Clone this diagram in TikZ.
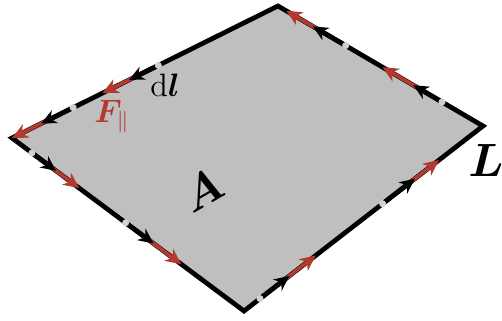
\documentclass[tikz,border=0pt]{standalone}
\usepackage{bm}
\usepackage{xcolor}
\usepackage{tikz}
\usetikzlibrary{arrows.meta, calc}

\definecolor{fred}{RGB}{180,58,48}

\begin{document}
\begin{tikzpicture}[
	x=0.37pt, y=-0.37pt,
	area/.style={fill=black!25},
	edge/.style={draw=black, line width=1.75pt, line join=miter},
	dlarr/.style={-{Stealth[length=5.6pt, width=5.2pt, inset=1.8pt]}, line width=1.75pt, black},
	farr/.style={-{Stealth[length=5.8pt, width=5.4pt, inset=1.8pt]}, line width=1.4pt, fred},
	gdot/.style={fill=black!18},
	lbl/.style={inner sep=0pt}
]
\useasboundingbox (0,0) rectangle (502,321);

% corners of the loop L
\coordinate (b) at (244,311);
\coordinate (r) at (483,126);
\coordinate (t) at (278,6);
\coordinate (l) at (12,138);

\fill[area] (b) -- (r) -- (t) -- (l) -- cycle;
\draw[edge] (b) -- (r) -- (t) -- (l) -- cycle;

% line elements dl and parallel force
\foreach \p/\q/\s/\m/\e in {b/r/0.067/0.19/0.30, b/r/0.58/0.715/0.816,
		r/t/0.20/0.34/0.49, r/t/0.67/0.83/0.96,
		t/l/0.45/0.56/0.66, t/l/0.77/0.89/1.0,
		l/b/0.086/0.19/0.29, l/b/0.49/0.61/0.73}{
	\coordinate (s) at ($(\p)!\s!(\q)$);
	\draw[farr] (s) -- ($(\p)!\e!(\q)$);
	\draw[dlarr] (s) -- ($(\p)!\m!(\q)$);
	\fill[gdot] (s) circle[radius=1.3pt];
}

\node[lbl, font=\large] (dl) at (165,85) {$\mathrm{d}\bm{l}$};
\node[lbl, font=\large, text=fred] (fpar) at (112,117) {$\bm{F}_{\parallel}$};
\node[lbl, rotate=30, font=\LARGE] (A) at (202,190) {$\bm{A}$};
\node[lbl, font=\LARGE] (L) at (486,160) {$\bm{L}$};

\end{tikzpicture}
\end{document}
